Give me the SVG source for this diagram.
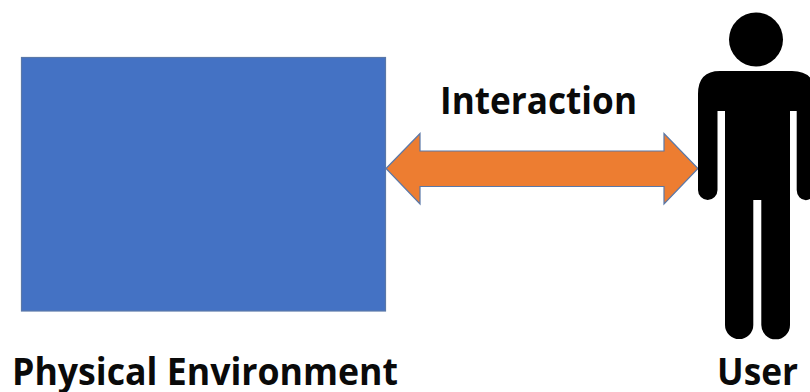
<svg xmlns="http://www.w3.org/2000/svg" width="810" height="392" viewBox="0 0 810 392">
<style>
.l{font-family:"Open Sans","Noto Sans","Liberation Sans",sans-serif;font-weight:700;font-size:37px;fill:#0a0a0a}
.o{stroke:#5a78a8;stroke-width:1.2}
</style>
<rect width="810" height="392" fill="#fff"/>
<g id="physical-environment">
<rect class="o" x="21.500" y="57.500" width="364" height="253.500" fill="#4472c4"/>
<text class="l" x="12" y="385" textLength="386" lengthAdjust="spacingAndGlyphs">Physical Environment</text>
</g>
<g id="connectors">
<path id="interaction-arrow" class="o" d="M386 168.500L420 133.500V151H664V133.500L698 168.500L664 204V186.500H420V204Z" fill="#ed7d31"/>
</g>
<g id="interaction-label">
<text class="l" x="440" y="114" textLength="197" lengthAdjust="spacingAndGlyphs">Interaction</text>
</g>
<g id="user">
<circle cx="756" cy="39.500" r="27" fill="#000"/>
<path d="M720 71H792Q815 71 815 94V190A9 10 0 0 1 796.700 190V111H790V325A14.350 14.350 0 0 1 761.300 325V200H753.300V325A14.150 14.150 0 0 1 725 325V111H717.500V190A9.750 10 0 0 1 698 190V94Q698 71 720 71Z" fill="#000"/>
<text class="l" x="717" y="385" textLength="81" lengthAdjust="spacingAndGlyphs">User</text>
</g>
</svg>
